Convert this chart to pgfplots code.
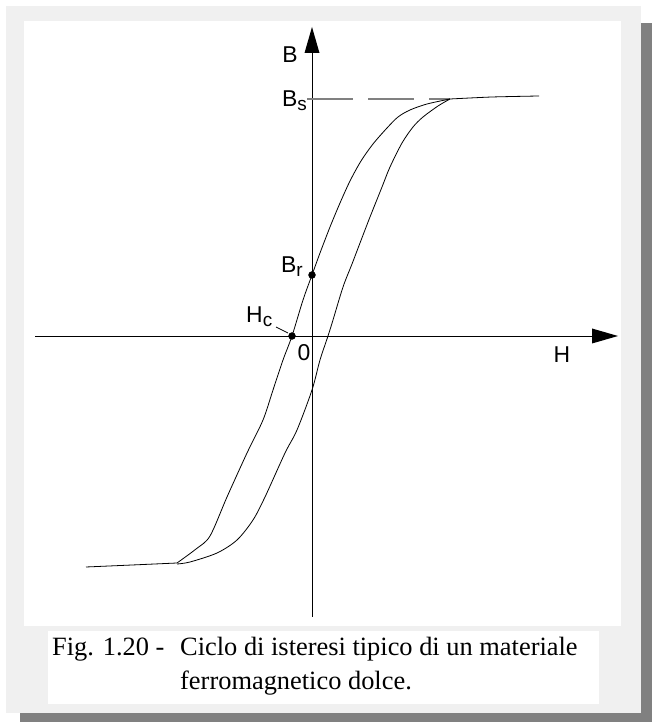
\documentclass[border=0pt]{standalone}
\usepackage{pgfplots}
\pgfplotsset{compat=1.18}
\usepackage{fontspec}
\setmainfont{Liberation Serif}
\newfontfamily\arial{Liberation Sans}

\definecolor{panelgray}{HTML}{F0F0F0}
\definecolor{shadowgray}{HTML}{808080}

% Tails of the magnetisation curve (H, B)
\pgfplotstableread{
H B
227 240
180 239
138 237
}\uppertail
\pgfplotstableread{
H B
-135 -227
-180 -229
-226 -231
}\lowertail
% Descending branch: from +Bs down to -Bs
\pgfplotstableread{
H B
138 237
115 232
98 226
86 219
75 208
61 192
49 175
38 155
28 133
18 109
8 83
0 61
-9 36
-20 0
-29 -24
-39 -54
-49 -84
-65 -117
-85 -161
-102 -200
-116 -213
-135 -227
}\descending
% Ascending branch: from -Bs up to +Bs
\pgfplotstableread{
H B
-135 -228
-122 -226
-95 -217
-75 -204
-59 -184
-47 -161
-27 -117
-15 -94
0 -54
8 -24
16 0
21 16
31 49
40 72
48 93
58 119
70 149
78 169
90 193
101 209
111 219
126 230
138 237
}\ascending

\newcommand{\lab}{\arial\fontsize{23}{23}\selectfont}
\newcommand{\sub}[1]{\raisebox{-4bp}{\fontsize{19}{19}\selectfont #1}}

\begin{document}
\begin{tikzpicture}
\begin{axis}[
  x=1bp, y=1bp,
  xmin=-312, xmax=340, ymin=-386, ymax=336,
  hide axis, clip=false, scale only axis,
]
% page and frame
\fill[white] (axis cs:-312,-386) rectangle (axis cs:340,336);
\fill[shadowgray] (axis cs:329,313) rectangle (axis cs:340,-386);
\fill[shadowgray] (axis cs:-292,-377) rectangle (axis cs:340,-386);
\fill[panelgray] (axis cs:-306,330) rectangle (axis cs:329,-377);
\fill[white] (axis cs:-288,315) rectangle (axis cs:309,-290);
\fill[white] (axis cs:-264,-295) rectangle (axis cs:287,-368);

% axes with arrow heads
\draw[line width=0.9bp] (axis cs:0,-281) -- (axis cs:0,284);
\fill (axis cs:-7.5,283) -- (axis cs:7.5,283) -- (axis cs:0,309) -- cycle;
\draw[line width=0.9bp] (axis cs:-277,0) -- (axis cs:281,0);
\fill (axis cs:280,7.5) -- (axis cs:280,-7.5) -- (axis cs:306,0) -- cycle;

% saturation level
\draw[shadowgray, line width=1.4bp, dash pattern=on 46bp off 15bp]
  (axis cs:-5,237) -- (axis cs:138,237);

% hysteresis loop
\addplot[black, line width=0.8bp, smooth, tension=0.4] table {\uppertail};
\addplot[black, line width=0.8bp, smooth, tension=0.4] table {\lowertail};
\addplot[black, line width=0.8bp, smooth, tension=0.5] table {\descending};
\addplot[black, line width=0.8bp, smooth, tension=0.5] table {\ascending};

% remanence and coercive field
\addplot[only marks, mark=*, mark size=3.5pt, black] coordinates {(0,61) (-20,0)};
\draw[line width=0.7bp] (axis cs:-36,9) -- (axis cs:-24,3);

% labels
\node[inner sep=0, anchor=center] at (axis cs:-22,281) {\lab B};
\node[inner sep=0, anchor=base west] at (axis cs:-30,229) {\lab B\sub{s}};
\node[inner sep=0, anchor=base west] at (axis cs:-31,63) {\lab B\sub{r}};
\node[inner sep=0, anchor=base west] at (axis cs:-66,13) {\lab H\sub{c}};
\node[inner sep=0, anchor=center] at (axis cs:-8,-17) {\lab 0};
\node[inner sep=0, anchor=center] at (axis cs:250,-19) {\lab H};

% caption
\node[inner sep=0, anchor=base west] at (axis cs:-260,-320)
  {\fontsize{26.5}{26.5}\selectfont Fig. 1.20 -};
\node[inner sep=0, anchor=base west] at (axis cs:-132,-320)
  {\fontsize{26.5}{26.5}\selectfont Ciclo di isteresi tipico di un materiale};
\node[inner sep=0, anchor=base west] at (axis cs:-132,-354)
  {\fontsize{26.5}{26.5}\selectfont ferromagnetico dolce.};
\end{axis}
\end{tikzpicture}
\end{document}
